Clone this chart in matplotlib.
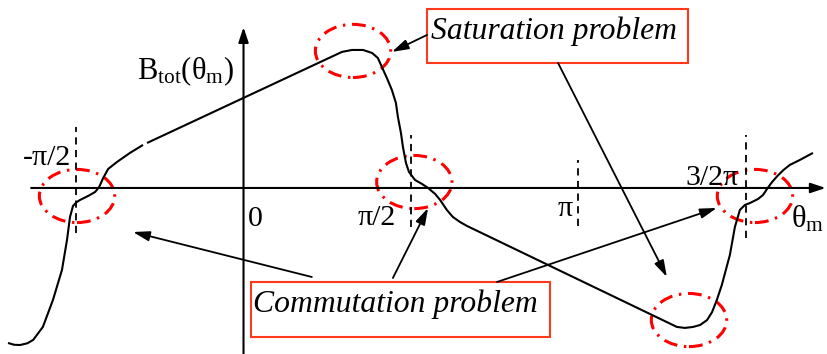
import matplotlib
matplotlib.use("Agg")
import matplotlib.pyplot as plt
from matplotlib.patches import Ellipse, Rectangle

plt.rcParams["font.family"] = ["Liberation Serif", "DejaVu Serif"]
plt.rcParams["mathtext.fontset"] = "custom"
plt.rcParams["mathtext.rm"] = "Liberation Serif"
plt.rcParams["mathtext.it"] = "Liberation Serif:italic"

# Rotor angle in units of pi, and total flux density (normalised to the positive peak)
theta_left = [-0.703, -0.685, -0.667, -0.645, -0.628, -0.599, -0.569, -0.542, -0.527, -0.518,
              -0.509, -0.498, -0.488, -0.464, -0.443, -0.431, -0.419, -0.404, -0.378,
              -0.339, -0.300]
b_left = [-1.123, -1.136, -1.138, -1.125, -1.101, -1.007, -0.812, -0.594, -0.377, -0.210,
          -0.130, -0.102, -0.087, -0.058, -0.029, 0.007, 0.072, 0.138, 0.188,
          0.254, 0.312]

theta_main = [-0.288, 0.294, 0.324, 0.357, 0.384, 0.401, 0.413, 0.428, 0.443, 0.455,
              0.461, 0.470, 0.476, 0.485, 0.494, 0.512, 0.533, 0.551, 0.572, 0.587,
              0.607, 0.625, 0.646, 0.667, 1.294, 1.318, 1.342, 1.363, 1.384, 1.399,
              1.413, 1.428, 1.440, 1.452, 1.467, 1.482, 1.497, 1.512, 1.536, 1.551,
              1.563, 1.578, 1.594, 1.612, 1.631, 1.661, 1.700]
b_main = [0.326, 0.986, 1.000, 1.000, 0.978, 0.942, 0.877, 0.797, 0.710, 0.616,
          0.514, 0.399, 0.297, 0.181, 0.116, 0.058, 0.029, 0.000, -0.043, -0.087,
          -0.159, -0.210, -0.246, -0.275, -1.007, -1.014, -1.007, -0.993, -0.957, -0.899,
          -0.812, -0.703, -0.594, -0.486, -0.283, -0.159, -0.123, -0.109, -0.080, -0.051,
          -0.007, 0.043, 0.087, 0.130, 0.167, 0.203, 0.254]

# Reference angles (units of pi) marked with dashed lines, and their labels
ref_angles = [-0.5, 0.5, 1.0, 1.5]
ref_spans = [(0.442, -0.326), (0.384, -0.283), (0.203, -0.275), (0.384, -0.362)]
tick_labels = ["-π/2", "0", "π/2", "π", "3/2π"]

# Problem regions highlighted on the curve (theta/pi, B)
saturation_spots = [(0.327, 0.993), (1.330, -0.957)]
commutation_spots = [(-0.497, -0.058), (0.510, 0.043), (1.527, -0.058)]

fig = plt.figure(figsize=(8.28, 3.54), dpi=100)
ax = fig.add_axes([0, 0, 1, 1])
ax.set_xlim(-0.727, 1.745)
ax.set_ylim(-1.203, 1.362)
ax.axis("off")

# Axes with arrow heads
ax.annotate("", xy=(1.738, 0), xytext=(-0.634, 0),
            arrowprops=dict(arrowstyle="-|>,head_length=0.9,head_width=0.3",
                            lw=1.5, color="black", shrinkA=0, shrinkB=0))
ax.annotate("", xy=(0, 1.165), xytext=(0, -1.203),
            arrowprops=dict(arrowstyle="-|>,head_length=0.9,head_width=0.3",
                            lw=1.5, color="black", shrinkA=0, shrinkB=0))

# Dashed reference lines
for a, (top, bot) in zip(ref_angles, ref_spans):
    ax.plot([a, a], [bot, top], color="black", lw=1.3, ls=(0, (4, 3)))

# Flux density curve
ax.plot(theta_left, b_left, color="black", lw=1.5, solid_capstyle="butt",
        solid_joinstyle="round")
ax.plot(theta_main, b_main, color="black", lw=1.5, solid_capstyle="butt",
        solid_joinstyle="round")

# Highlight ellipses
for cx, cy in saturation_spots + commutation_spots:
    ax.add_patch(Ellipse((cx, cy), 0.225, 0.385, fill=False, edgecolor="#FF0000",
                         lw=2.2, ls=(0, (4.5, 2.2, 0.8, 2.2))))

# Tick-style labels
label_pos = [(-0.587, 0.217), (0.034, -0.225), (0.399, -0.217), (0.960, -0.152), (1.399, 0.072)]
for txt, (x, y) in zip(tick_labels, label_pos):
    ax.text(x, y, txt, fontsize=21.5, ha="center", va="center")

ax.text(1.684, -0.225, r"$\mathrm{θ_m}$", fontsize=22, ha="center", va="center")
ax.text(-0.318, 0.848, r"$\mathrm{B_{tot}(θ_m)}$", fontsize=22, ha="left", va="center")

# Annotation boxes
box_color = "#FF3A1A"
ax.add_patch(Rectangle((0.548, 0.906), 1.327 - 0.548, 1.297 - 0.906, fill=False,
                       edgecolor=box_color, lw=1.5))
ax.text(0.560, 1.138, "Saturation problem", fontsize=22.8, style="italic",
        ha="left", va="center")
ax.add_patch(Rectangle((0.022, -1.080), 0.915 - 0.022, -0.681 + 1.080, fill=False,
                       edgecolor=box_color, lw=1.5))
ax.text(0.028, -0.841, "Commutation problem", fontsize=22.8, style="italic",
        ha="left", va="center")

# Arrows from the boxes to the highlighted regions
arrow_kw = dict(arrowstyle="-|>,head_length=1.0,head_width=0.3", lw=1.3,
                color="black", shrinkA=0, shrinkB=0)
arrows = [((0.548, 1.109), (0.443, 0.986)),
          ((0.939, 0.906), (1.264, -0.645)),
          ((0.204, -0.645), (-0.330, -0.319)),
          ((0.446, -0.652), (0.551, -0.145)),
          ((0.757, -0.681), (1.413, -0.145))]
for tail, tip in arrows:
    ax.annotate("", xy=tip, xytext=tail, arrowprops=arrow_kw)

fig.savefig("out.png", dpi=100)
